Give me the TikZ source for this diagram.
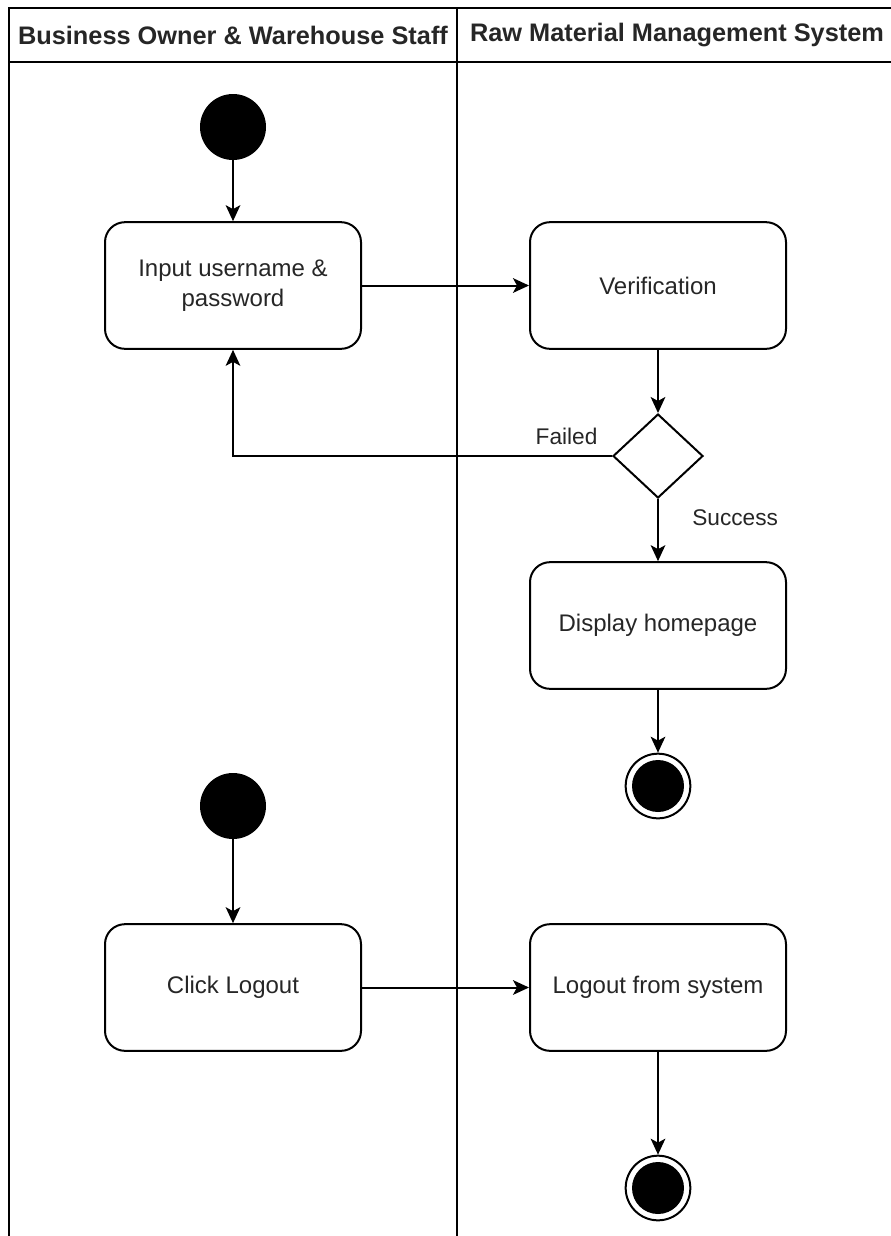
\documentclass[tikz,border=0pt]{standalone}
\usepackage{fontspec}
\setmainfont{Liberation Sans}
\usetikzlibrary{arrows.meta, shapes.geometric}

\tikzset{
  lane/.style={line width=1.5pt},
  action/.style={rectangle, rounded corners=15pt, draw, line width=1.5pt,
    minimum width=192pt, minimum height=95pt, align=center,
    font=\fontsize{18}{22.5}\selectfont, text=black!85},
  startnode/.style={circle, fill=black, minimum size=49.5pt, inner sep=0pt},
  endnode/.style={circle, draw, line width=1.5pt, minimum size=48.5pt, inner sep=0pt,
    path picture={\fill[black] (path picture bounding box.center) circle (19.5pt);}},
  decision/.style={diamond, draw, line width=1.5pt, minimum width=67.5pt,
    minimum height=63pt, inner sep=0pt},
  flow/.style={-{Stealth[length=12pt, width=11pt, inset=3pt]}, line width=1.5pt},
  guard/.style={font=\fontsize{17}{20}\selectfont, text=black!85, inner sep=0pt},
  lanetitle/.style={font=\bfseries\fontsize{19}{22}\selectfont, text=black!85}
}

\begin{document}
\begin{tikzpicture}[x=0.75pt, y=-0.75pt]
  \useasboundingbox (0,0) rectangle (891,1236);

  % Swimlanes
  \draw[lane] (9,1236) -- (9,8) -- (891,8);
  \draw[lane] (9,62) -- (891,62);
  \draw[lane] (457,8) -- (457,1236);
  \node[lanetitle] (lane1) at (233,35) {Business Owner \& Warehouse Staff};
  \node[lanetitle] (lane2) at (677,35) {Raw Material Management System};

  % Login
  \node[startnode] (start1) at (233,127) {};
  \node[action] (input) at (233,285.5) {Input username \&\\password};
  \node[action] (verif) at (658,285.5) {Verification};
  \node[decision] (check) at (658,456) {};
  \node[action] (home) at (658,625.5) {Display homepage};
  \node[endnode] (end1) at (658,786) {};

  % Logout
  \node[startnode] (start2) at (233,806) {};
  \node[action] (logout) at (233,987.5) {Click Logout};
  \node[action] (leave) at (658,987.5) {Logout from system};
  \node[endnode] (end2) at (658,1188) {};

  % Connections
  \draw[flow] (start1) -- (input);
  \draw[flow] (input) -- (verif);
  \draw[flow] (verif) -- (check);
  \draw[flow] (check.west) -| node[guard, pos=0.06, above=8pt] {Failed} (input.south);
  \draw[flow] (check.south) -- node[guard, pos=0.3, right=25pt] {Success} (home.north);
  \draw[flow] (home) -- (end1);
  \draw[flow] (start2) -- (logout);
  \draw[flow] (logout) -- (leave);
  \draw[flow] (leave) -- (end2);
\end{tikzpicture}
\end{document}
